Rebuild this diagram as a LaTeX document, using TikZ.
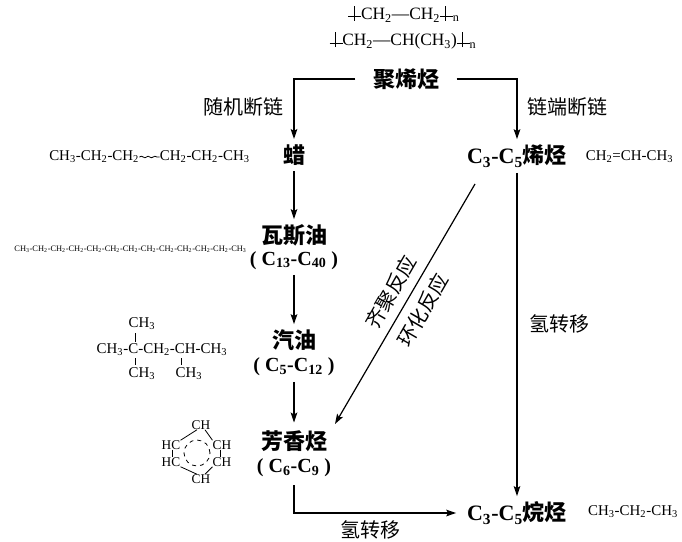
\documentclass[tikz,border=0pt]{standalone}
\usepackage{fontspec}
\setmainfont{Liberation Serif}
\newfontfamily\cjk{Noto Sans CJK SC}
\usetikzlibrary{calc, arrows.meta, decorations.pathmorphing}
\newcommand{\lo}[1]{\textsubscript{#1}}
\newcommand{\chainbar}{\rule[0.3ex]{0.75em}{0.5pt}\hspace{-0.45em}\rule[-0.15ex]{0.5pt}{0.85em}\hspace{0.4em}}
\newcommand{\range}[1]{{\fontsize{15}{16}\selectfont #1}}
\begin{document}
\begin{tikzpicture}[
  x=0.75pt, y=-0.75pt,
  prod/.style={inner xsep=8pt, inner ysep=4pt, align=center,
    font=\fontsize{16.5}{16}\selectfont\bfseries},
  lbl/.style={inner sep=0pt, font=\fontsize{15}{18}\selectfont\cjk},
  chem/.style={inner sep=0pt, font=\fontsize{11.2}{13}\selectfont},
  benz/.style={inner sep=0pt, font=\fontsize{10}{12}\selectfont},
  bond/.style={line width=0.6pt},
  arw/.style={-{Stealth[length=7.5pt, width=5pt, inset=1.5pt]}, line width=0.9pt},
]
\useasboundingbox (0,0) rectangle (682,542);

% ---- products ----
\node[prod, inner xsep=13pt] (pe) at (406,79) {\cjk 聚烯烃};
\node[prod] (wax) at (294,155) {\cjk 蜡};
\node[prod] (gasoil) at (294,247) {{\cjk 瓦斯油}\\\range{( C\lo{13}-C\lo{40} )}};
\node[prod] (petrol) at (294,353) {{\cjk 汽油}\\[1.5pt]\range{( C\lo{5}-C\lo{12} )}};
\node[prod, inner ysep=6pt] (arom) at (294,454) {{\cjk 芳香烃}\\[1.5pt]\range{( C\lo{6}-C\lo{9} )}};
\node[prod] (olefin) at (517,156) {C\lo{3}-C\lo{5}{\cjk 烯烃}};
\node[prod] (alkane) at (517,513) {C\lo{3}-C\lo{5}{\cjk 烷烃}};

% ---- arrows ----
\coordinate (cyc-a) at (475,184);
\coordinate (cyc-b) at (335,424);
\draw[arw] (pe.west) -| (wax.north);
\draw[arw] (pe.east) -| (olefin.north);
\draw[arw] (wax) -- (gasoil);
\draw[arw] (gasoil) -- (petrol);
\draw[arw] (petrol) -- (arom);
\draw[arw] (olefin) -- (alkane);
\draw[arw] (cyc-a) -- (cyc-b);
\draw[arw] (arom.south) |- (alkane.west);

% ---- arrow labels ----
\node[lbl] (l-rand) at (243,107) {随机断链};
\node[lbl] (l-end) at (567,107) {链端断链};
\node[lbl, rotate=60] (l-olig) at (391,292) {齐聚反应};
\node[lbl, rotate=60] (l-cyc) at (423,310) {环化反应};
\node[lbl] (l-ht1) at (559,324) {氢转移};
\node[lbl] (l-ht2) at (370,530) {氢转移};

% ---- formulas ----
\node[chem, font=\fontsize{13}{15}\selectfont] (f-pe) at (404,14) {\chainbar CH\lo{2}—CH\lo{2}\chainbar\lo{n}};
\node[chem, font=\fontsize{13}{15}\selectfont] (f-pp) at (403,41) {\chainbar CH\lo{2}—CH(CH\lo{3})\chainbar\lo{n}};
\node[chem, anchor=west] (f-wl) at (49,157) {CH\lo{3}-CH\lo{2}-CH\lo{2}};
\node[chem, anchor=east] (f-wr) at (250,157) {CH\lo{2}-CH\lo{2}-CH\lo{3}};
\draw[bond, decorate, decoration={snake, amplitude=0.6pt, segment length=5pt}]
  (f-wl.east) -- (f-wr.west);
\node[inner sep=0pt, font=\fontsize{6.3}{8}\selectfont] (f-long) at (130.5,249)
  {CH\lo{3}-CH\lo{2}-CH\lo{2}-CH\lo{2}-CH\lo{2}-CH\lo{2}-CH\lo{2}-CH\lo{2}-CH\lo{2}-CH\lo{2}-CH\lo{2}-CH\lo{2}-CH\lo{3}};
\node[chem] (f-prop) at (629.5,157) {CH\lo{2}=CH-CH\lo{3}};
\node[chem] (f-propane) at (633,512) {CH\lo{3}-CH\lo{2}-CH\lo{3}};

% ---- iso-octane ----
\node[chem] (iso) at (162,350) {CH\lo{3}-C-CH\lo{2}-CH-CH\lo{3}};
\node[chem] (iso-t) at (142,324) {CH\lo{3}};
\node[chem] (iso-b1) at (142,374) {CH\lo{3}};
\node[chem] (iso-b2) at (189,374) {CH\lo{3}};
\coordinate (iso-c) at (135,350);
\coordinate (iso-h) at (181,350);
\draw[bond] ($(iso-c)+(0,-17)$) -- ($(iso-c)+(0,-8)$);
\draw[bond] ($(iso-c)+(0,8)$) -- ($(iso-c)+(0,15)$);
\draw[bond] ($(iso-h)+(0,8)$) -- ($(iso-h)+(0,15)$);

% ---- benzene ring ----
\node[benz] (b-t) at (201,425) {CH};
\node[benz] (b-l1) at (171,445) {HC};
\node[benz] (b-l2) at (171,462) {HC};
\node[benz] (b-r1) at (222,445) {CH};
\node[benz] (b-r2) at (222,462) {CH};
\node[benz] (b-b) at (201,479) {CH};
\draw[bond] (b-t.-130) -- (b-l1.north east);
\draw[bond] (b-t.-50) -- (b-r1.north west);
\draw[bond] (b-l1.-70) -- (b-l2.70);
\draw[bond] (b-r1.-110) -- (b-r2.110);
\draw[bond] (b-b.130) -- (b-l2.south east);
\draw[bond] (b-b.50) -- (b-r2.south west);
\node[draw, dashed, circle, bond, minimum size=19.5pt, inner sep=0pt] (b-ring) at (197,453) {};

\end{tikzpicture}
\end{document}
